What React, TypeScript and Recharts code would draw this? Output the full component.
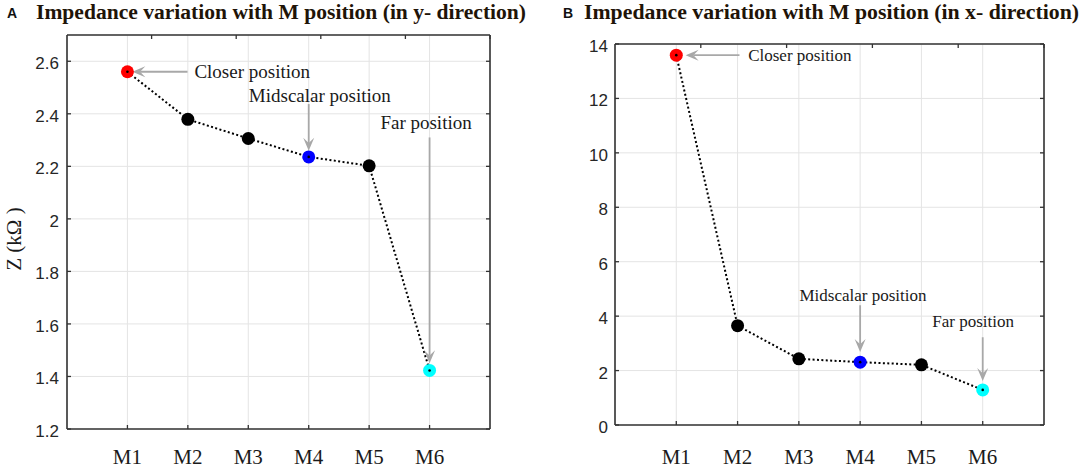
import { LineChart, Line, XAxis, YAxis, CartesianGrid, ReferenceLine, ReferenceDot } from "recharts";

const positions = ["M1", "M2", "M3", "M4", "M5", "M6"];
const impedanceY = [2.56, 2.379, 2.306, 2.236, 2.202, 1.423];
const impedanceX = [13.59, 3.65, 2.43, 2.31, 2.21, 1.29];
const xTicks = [1, 2, 3, 4, 5, 6];
const yTicksA = [1.2, 1.4, 1.6, 1.8, 2, 2.2, 2.4, 2.6];
const yTicksB = [0, 2, 4, 6, 8, 10, 12, 14];

// arrow annotations, in data units: text start, arrow tail, arrow tip
const notesA = [
  { text: "Closer position", at: [2.108, 2.536], from: [1.994, 2.56], to: [1.081, 2.56] },
  { text: "Midscalar position", at: [3.009, 2.446], from: [4, 2.437], to: [4, 2.259] },
  { text: "Far position", at: [5.186, 2.341], from: [6, 2.31], to: [6, 1.45] },
];
const notesB = [
  { text: "Closer position", at: [2.173, 13.37], from: [2.031, 13.59], to: [1.153, 13.59] },
  { text: "Midscalar position", at: [3.01, 4.548], from: [4, 4.4], to: [4, 2.684] },
  { text: "Far position", at: [5.177, 3.618], from: [6, 3.224], to: [6, 1.618] },
];

const markerColors = ["#ff0000", "#000000", "#000000", "#0000ff", "#000000", "#00ffff"];
const frame = "#333333";
const serif = "'Liberation Serif', 'Times New Roman', serif";
const sans = "'Liberation Sans', Arial, sans-serif";

function Arrow(props: any) {
  const { x1, y1, x2, y2 } = props;
  const len = Math.hypot(x2 - x1, y2 - y1) || 1;
  const dx = (x2 - x1) / len;
  const dy = (y2 - y1) / len;
  const L = 13;
  const W = 5.5;
  const bx = x2 - dx * L;
  const by = y2 - dy * L;
  const nx = x2 - dx * L * 0.6;
  const ny = y2 - dy * L * 0.6;
  const pts = `${x2},${y2} ${bx - dy * W},${by + dx * W} ${nx},${ny} ${bx + dy * W},${by - dx * W}`;
  return (
    <g>
      <line x1={x1} y1={y1} x2={nx} y2={ny} stroke="#a8a8a8" strokeWidth={1.8} />
      <polygon points={pts} fill="#a8a8a8" />
    </g>
  );
}

function renderDot(props: any) {
  const { cx, cy, index } = props;
  const c = markerColors[index];
  return (
    <g key={`dot-${index}`}>
      <circle cx={cx} cy={cy} r={6.5} fill={c} />
      {c !== "#000000" && <circle cx={cx} cy={cy} r={1.3} fill="#000" />}
    </g>
  );
}

function Panel({ values, yDomain, yTicks, notes, noteSize, width, margin, yAxisWidth, xAxisHeight, labelGap, labelDrop }: any) {
  const data = positions.map((name, i) => ({ pos: i + 1, name, z: values[i] }));
  return (
    <LineChart width={width} height={468} data={data} margin={margin}>
      <CartesianGrid stroke="#e4e4e4" strokeWidth={1} />
      <XAxis
        dataKey="pos" type="number" domain={[0, 7]} ticks={xTicks} interval={0} allowDataOverflow
        height={xAxisHeight} tickSize={0} tickMargin={0} tickLine={false}
        axisLine={{ stroke: frame, strokeWidth: 1.6 }}
        tick={(p: any) => (
          <g key={`bx-${p.index}`}>
            <line x1={p.x} y1={p.y} x2={p.x} y2={p.y - 4} stroke={frame} strokeWidth={1.3} />
            <text x={p.x} y={p.y + labelDrop} textAnchor="middle" fontFamily={serif} fontSize={21} fill="#1a1a1a">
              {positions[p.payload.value - 1]}
            </text>
          </g>
        )}
      />
      <XAxis
        xAxisId="top" orientation="top" type="number" domain={[0, 7]} ticks={xTicks} interval={0} allowDataOverflow
        height={1} tickSize={0} tickMargin={0} tickLine={false}
        axisLine={{ stroke: frame, strokeWidth: 1.6 }}
        tick={(p: any) => (
          <line key={`tx-${p.index}`} x1={p.x} y1={p.y} x2={p.x} y2={p.y + 4} stroke={frame} strokeWidth={1.3} />
        )}
      />
      <YAxis
        type="number" domain={yDomain} ticks={yTicks} interval={0} allowDataOverflow
        width={yAxisWidth} tickSize={0} tickMargin={0} tickLine={false}
        axisLine={{ stroke: frame, strokeWidth: 1.6 }}
        tick={(p: any) => (
          <g key={`ly-${p.index}`}>
            <line x1={p.x} y1={p.y} x2={p.x + 4} y2={p.y} stroke={frame} strokeWidth={1.3} />
            <text x={p.x - labelGap} y={p.y + 8} textAnchor="end" fontFamily={sans} fontSize={17} fill="#262626">
              {String(p.payload.value)}
            </text>
          </g>
        )}
      />
      <YAxis
        yAxisId="right" orientation="right" type="number" domain={yDomain} ticks={yTicks} interval={0} allowDataOverflow
        width={1} tickSize={0} tickMargin={0} tickLine={false}
        axisLine={{ stroke: frame, strokeWidth: 1.6 }}
        tick={(p: any) => (
          <line key={`ry-${p.index}`} x1={p.x} y1={p.y} x2={p.x - 4} y2={p.y} stroke={frame} strokeWidth={1.3} />
        )}
      />
      <Line
        type="linear" dataKey="z" stroke="#000" strokeWidth={2} strokeDasharray="2 2.4"
        dot={renderDot} activeDot={false} isAnimationActive={false}
      />
      {notes.map((n: any) => (
        <ReferenceLine
          key={`arrow-${n.text}`}
          segment={[{ x: n.from[0], y: n.from[1] }, { x: n.to[0], y: n.to[1] }]}
          shape={(p: any) => <Arrow {...p} />}
        />
      ))}
      {notes.map((n: any) => (
        <ReferenceDot
          key={`note-${n.text}`}
          x={n.at[0]} y={n.at[1]} r={0}
          shape={(p: any) => (
            <text x={p.cx} y={p.cy} fontFamily={serif} fontSize={noteSize} fill="#1a1a1a">
              {n.text}
            </text>
          )}
        />
      ))}
    </LineChart>
  );
}

export default function App() {
  return (
    <div style={{ position: "absolute", left: 0, top: 0, width: 1084, height: 468, background: "#fff" }}>
      <div style={{ position: "absolute", left: 0, top: 0 }}>
        <Panel
          values={impedanceY} yDomain={[1.2, 2.7]} yTicks={yTicksA} notes={notesA} noteSize={19}
          width={540} margin={{ top: 34, right: 49, bottom: 0, left: 0 }} yAxisWidth={67} xAxisHeight={39}
          labelGap={8} labelDrop={34.5}
        />
      </div>
      <div style={{ position: "absolute", left: 540, top: 0 }}>
        <Panel
          values={impedanceX} yDomain={[0, 14]} yTicks={yTicksB} notes={notesB} noteSize={17}
          width={544} margin={{ top: 43, right: 39, bottom: 0, left: 0 }} yAxisWidth={75} xAxisHeight={43}
          labelGap={7} labelDrop={38.5}
        />
      </div>
      <svg width={1084} height={468} style={{ position: "absolute", left: 0, top: 0, pointerEvents: "none" }}>
        <text x={7} y={18} fontFamily={sans} fontWeight="bold" fontSize={14} fill="#111">A</text>
        <text x={36} y={18.5} fontFamily={serif} fontWeight="bold" fontSize={20} fill="#1f1408"
          textLength={490} lengthAdjust="spacingAndGlyphs">
          Impedance variation with M position (in y- direction)
        </text>
        <text x={563} y={18} fontFamily={sans} fontWeight="bold" fontSize={14} fill="#111">B</text>
        <text x={584} y={18.5} fontFamily={serif} fontWeight="bold" fontSize={20} fill="#1f1408"
          textLength={495} lengthAdjust="spacingAndGlyphs">
          Impedance variation with M position (in x- direction)
        </text>
        <text x={21} y={239} transform="rotate(-90, 21, 239)" textAnchor="middle" fontFamily={serif} fontSize={21} fill="#1a1a1a">
          Z (kΩ )
        </text>
      </svg>
    </div>
  );
}
